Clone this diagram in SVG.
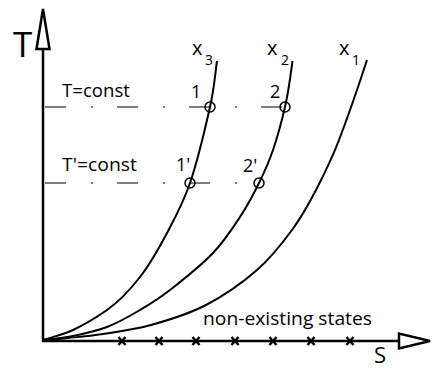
<svg xmlns="http://www.w3.org/2000/svg" width="432" height="370" viewBox="0 0 432 370">
<style>
.t{font-family:"Open Sans","Liberation Sans",sans-serif;fill:#000}
.ax{stroke:#000;stroke-width:2.5;fill:none}
.cv{stroke:#000;stroke-width:2;fill:none}
.dl{stroke:#555;stroke-width:1.5;fill:none;stroke-dasharray:21 25 2 24}
.pt{stroke:#000;stroke-width:1.5;fill:none}
.tk{stroke:#000;stroke-width:2.4;fill:none}
</style>
<rect width="432" height="370" fill="#fff"/>
<g id="axes">
<line class="ax" x1="43" y1="341" x2="43" y2="48"/>
<polygon class="ax" points="43,9 36.5,49 49.5,49" stroke-width="2"/>
<line class="ax" x1="42" y1="341" x2="399" y2="341"/>
<polygon class="ax" points="430,341 399,333.5 399,348.5" stroke-width="2"/>
<text class="t" x="13" y="57" font-size="35">T</text>
<text class="t" x="374" y="363" font-size="22">S</text>
</g>
<g id="ticks">
<path class="tk" d="M118.5,337 l7,8 M125.5,337 l-7,8 M155.5,337 l7,8 M162.5,337 l-7,8 M192.5,337 l7,8 M199.5,337 l-7,8 M231.5,337 l7,8 M238.5,337 l-7,8 M269.5,337 l7,8 M276.5,337 l-7,8 M307.5,337 l7,8 M314.5,337 l-7,8 M346.5,337 l7,8 M353.5,337 l-7,8"/>
</g>
<g id="isotherms">
<line class="dl" x1="45" y1="107" x2="285" y2="107"/>
<line class="dl" x1="45" y1="183" x2="259" y2="183"/>
<text class="t" x="62" y="97" font-size="19" textLength="68" lengthAdjust="spacingAndGlyphs">T=const</text>
<text class="t" x="62" y="171" font-size="19" textLength="75" lengthAdjust="spacingAndGlyphs">T'=const</text>
</g>
<g id="curve-x3">
<path class="cv" d="M43,340 C53,336.7 62.3,335 73,330 C83.7,325 95.8,317.8 107,310 C118.2,302.2 130,289.8 140,277 C150,264.2 158.7,248.7 167,233 C175.3,217.3 182.8,204 190,183 C197.2,162 205.3,128 210,107 C214.7,86 215,74 217,61"/>
<text class="t" x="192" y="55" font-size="20">x</text>
<text class="t" x="205" y="65" font-size="14">3</text>
</g>
<g id="curve-x2">
<path class="cv" d="M43,340 C53,338.7 62.3,338.2 73,336 C83.7,333.8 95.8,331.3 107,327 C118.2,322.7 129.5,316.2 140,310 C150.5,303.8 157.8,299.5 170,290 C182.2,280.5 201.3,265.2 213,253 C224.7,240.8 232.3,228.7 240,217 C247.7,205.3 253.5,194.2 259,183 C264.5,171.8 268.7,162.7 273,150 C277.3,137.3 281.5,122 285,107 C288.5,92 290.5,76 292.5,61"/>
<text class="t" x="267" y="55" font-size="20">x</text>
<text class="t" x="281" y="65" font-size="14">2</text>
</g>
<g id="curve-x1">
<path class="cv" d="M43,340 C51.3,339.3 58,339 68,338 C78,337 89.2,336.2 103,334 C116.8,331.8 133.8,329.8 151,325 C168.2,320.2 188.3,314.2 206,305 C223.7,295.8 242.7,282.5 257,270 C271.3,257.5 282.2,243.3 292,230 C301.8,216.7 308.2,205 316,190 C323.8,175 330.7,161.7 339,140 C347.3,118.3 358.3,86.7 367,60"/>
<text class="t" x="339" y="55" font-size="20">x</text>
<text class="t" x="352" y="65" font-size="14">1</text>
</g>
<g id="point-1">
<circle class="pt" cx="210" cy="107" r="5"/>
<text class="t" x="191" y="98" font-size="18">1</text>
</g>
<g id="point-2">
<circle class="pt" cx="285" cy="107" r="5"/>
<text class="t" x="270" y="98" font-size="18">2</text>
</g>
<g id="point-1p">
<circle class="pt" cx="190" cy="183" r="5"/>
<text class="t" x="176" y="171" font-size="18">1'</text>
</g>
<g id="point-2p">
<circle class="pt" cx="259" cy="183" r="5"/>
<text class="t" x="243" y="172" font-size="18">2'</text>
</g>
<g id="region-label">
<text class="t" x="203" y="325" font-size="18" textLength="169" lengthAdjust="spacingAndGlyphs">non-existing states</text>
</g>
</svg>
